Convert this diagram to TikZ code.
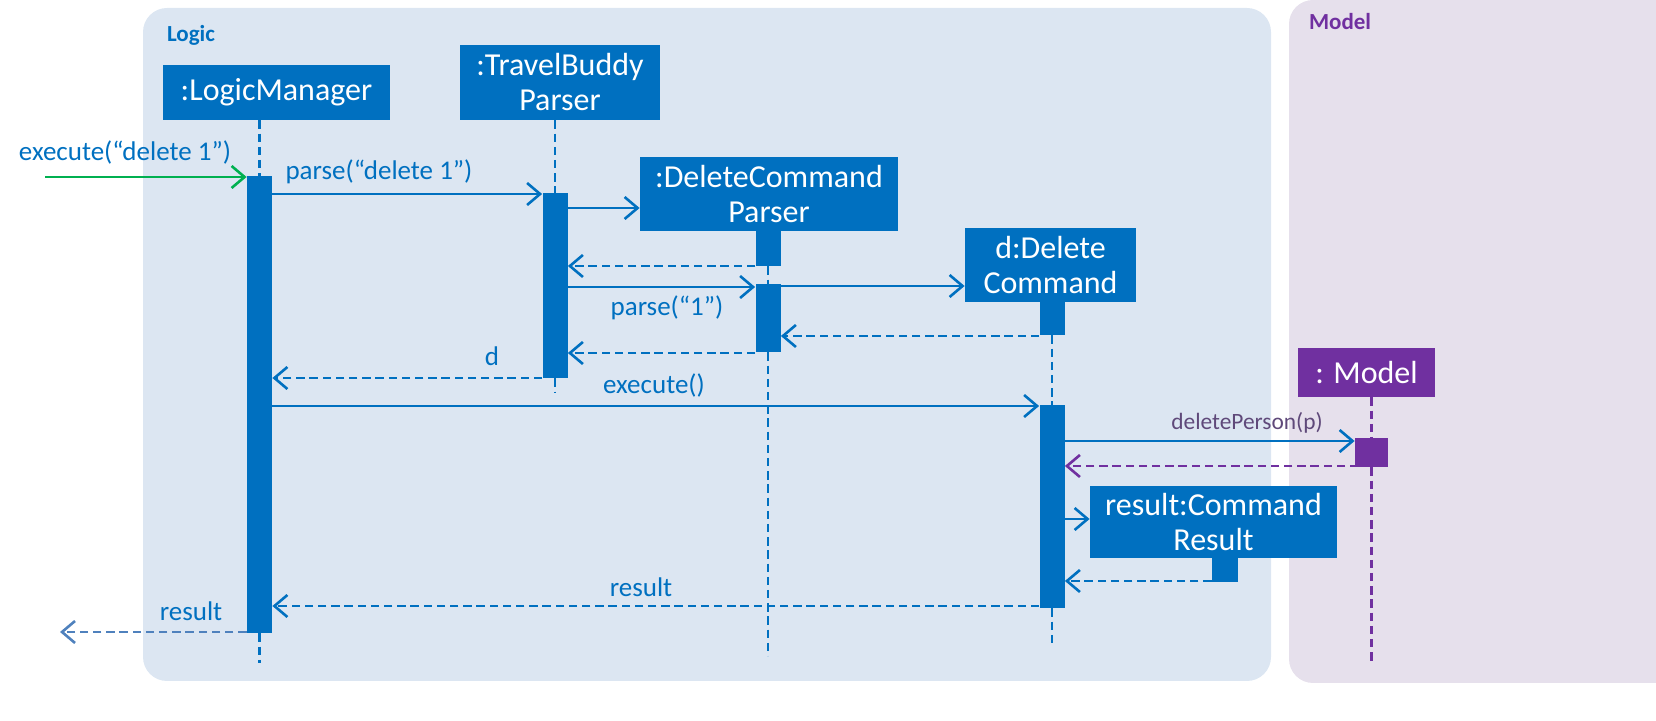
\documentclass[tikz,border=0pt]{standalone}
\usepackage{fontspec}
\setmainfont{Carlito}
\usetikzlibrary{arrows.meta}
\definecolor{objblue}{HTML}{0070C0}
\definecolor{logicbg}{HTML}{DCE6F2}
\definecolor{modelbg}{HTML}{E6E0EC}
\definecolor{modelpurple}{HTML}{7030A0}
\definecolor{calltext}{HTML}{5F497A}
\definecolor{callgreen}{HTML}{00B050}
\definecolor{outblue}{HTML}{4F81BD}

\begin{document}
\begin{tikzpicture}[x=0.5pt, y=-0.5pt,
    >={Straight Barb[length=6.5pt,width=11pt]},
    obj/.style={fill=objblue, text=white, align=center, inner sep=0pt,
        font=\fontsize{16}{17.5}\selectfont},
    act/.style={fill=objblue, inner sep=0pt, minimum width=12.5pt},
    life/.style={objblue, line width=1.3pt, dash pattern=on 4.2pt off 2.4pt},
    call/.style={->, objblue, line width=1.3pt},
    reply/.style={call, dash pattern=on 4.2pt off 2.4pt},
    lbl/.style={text=objblue, font=\fontsize{13.5}{16}\selectfont}]
\useasboundingbox (0,0) rectangle (1656,721);

% panels
\fill[logicbg, rounded corners=12pt] (143,8) rectangle (1271,681);
\fill[modelbg, rounded corners=12pt] (1289,0) rectangle (1700,683);
\node[anchor=west, text=objblue, font=\fontsize{11.5}{13}\selectfont\bfseries] (logictitle) at (160,35) {Logic};
\node[anchor=west, text=modelpurple, font=\fontsize{11.5}{13}\selectfont\bfseries] (modeltitle) at (1302,22) {Model};

% objects
\node[obj, minimum width=113.5pt, minimum height=27.5pt] (lm) at (276.5,92.5) {:LogicManager};
\node[obj, minimum width=100pt, minimum height=37.5pt] (tbp) at (560,82.5) {:TravelBuddy\\Parser};
\node[obj, minimum width=129pt, minimum height=37pt] (dcp) at (769,194) {:DeleteCommand\\Parser};
\node[obj, minimum width=85.5pt, minimum height=37pt] (dc) at (1050.5,265) {d:Delete\\Command};
\node[obj, fill=modelpurple, minimum width=68.5pt, minimum height=24.5pt] (model) at (1366.5,372.5) {: Model};
\node[obj, minimum width=123.5pt, minimum height=36pt] (cr) at (1213.5,522) {result:Command\\Result};

% activation bars
\node[act, minimum height=228.5pt] (lmA) at (259.5,404.5) {};
\node[act, minimum height=92.5pt] (tbpA) at (555,285.5) {};
\node[act, minimum height=17.5pt] (dcpA1) at (768,248.5) {};
\node[act, minimum height=34pt] (dcpA2) at (768,318) {};
\node[act, minimum height=16.5pt] (dcA1) at (1052,318.5) {};
\node[act, minimum height=101.5pt] (dcA2) at (1052,506.5) {};
\node[act, fill=modelpurple, minimum width=16.5pt, minimum height=14.5pt] (mA) at (1371.5,452.5) {};
\node[act, minimum width=13pt, minimum height=12pt] (crA) at (1225,570) {};

% lifelines
\draw[life] (lmA.north |- lm.south) -- (lmA.north);
\draw[life] (lmA.south) -- (259.5,663);
\draw[life] (tbpA.north |- tbp.south) -- (tbpA.north);
\draw[life] (tbpA.south) -- (555,392);
\draw[life] (dcpA1.south) -- (dcpA2.north);
\draw[life] (dcpA2.south) -- (768,656);
\draw[life] (dcA1.south) -- (dcA2.north);
\draw[life] (dcA2.south) -- (1052,643);
\draw[life, modelpurple] (mA.north |- model.south) -- (mA.north);
\draw[life, modelpurple] (mA.south) -- (1371.5,663);

% messages
\coordinate (caller) at (45,177);
\coordinate (user) at (60,632);
\draw[call, callgreen] (caller) -- (lmA.west |- caller);
\node[lbl] (l1) at (125,153) {execute(“delete 1”)};
\draw[call] (lmA.east |- 0,194) -- (tbpA.west |- 0,194);
\node[lbl] (l2) at (379,172) {parse(“delete 1”)};
\draw[call] (tbpA.east |- 0,208) -- (dcp.west |- 0,208);
\draw[reply] (dcpA1.west |- 0,266) -- (tbpA.east |- 0,266);
\draw[call] (tbpA.east |- 0,287) -- (dcpA2.west |- 0,287);
\node[lbl] (l3) at (667,308) {parse(“1”)};
\draw[call] (dcpA2.east |- 0,286) -- (dc.west |- 0,286);
\draw[reply] (dcA1.west |- 0,336) -- (dcpA2.east |- 0,336);
\draw[reply] (dcpA2.west |- 0,353) -- (tbpA.east |- 0,353);
\draw[reply] (tbpA.west |- 0,378) -- (lmA.east |- 0,378);
\node[lbl] (l4) at (492,356) {d};
\draw[call] (lmA.east |- 0,406) -- (dcA2.west |- 0,406);
\node[lbl] (l5) at (654,385) {execute()};
\draw[call] (dcA2.east |- 0,441) -- (mA.west |- 0,441);
\node[text=calltext, font=\fontsize{11.7}{14}\selectfont] (l6) at (1247,423) {deletePerson(p)};
\draw[reply, modelpurple] (mA.center |- 0,466) -- (dcA2.east |- 0,466);
\draw[call] (dcA2.east |- 0,519) -- (cr.west |- 0,519);
\draw[reply] (crA.west |- 0,581) -- (dcA2.east |- 0,581);
\draw[reply] (dcA2.west |- 0,606) -- (lmA.east |- 0,606);
\node[lbl] (l7) at (641,587) {result};
\draw[reply, outblue] (lmA.west |- user) -- (user);
\node[lbl] (l8) at (191,611) {result};
\end{tikzpicture}
\end{document}
